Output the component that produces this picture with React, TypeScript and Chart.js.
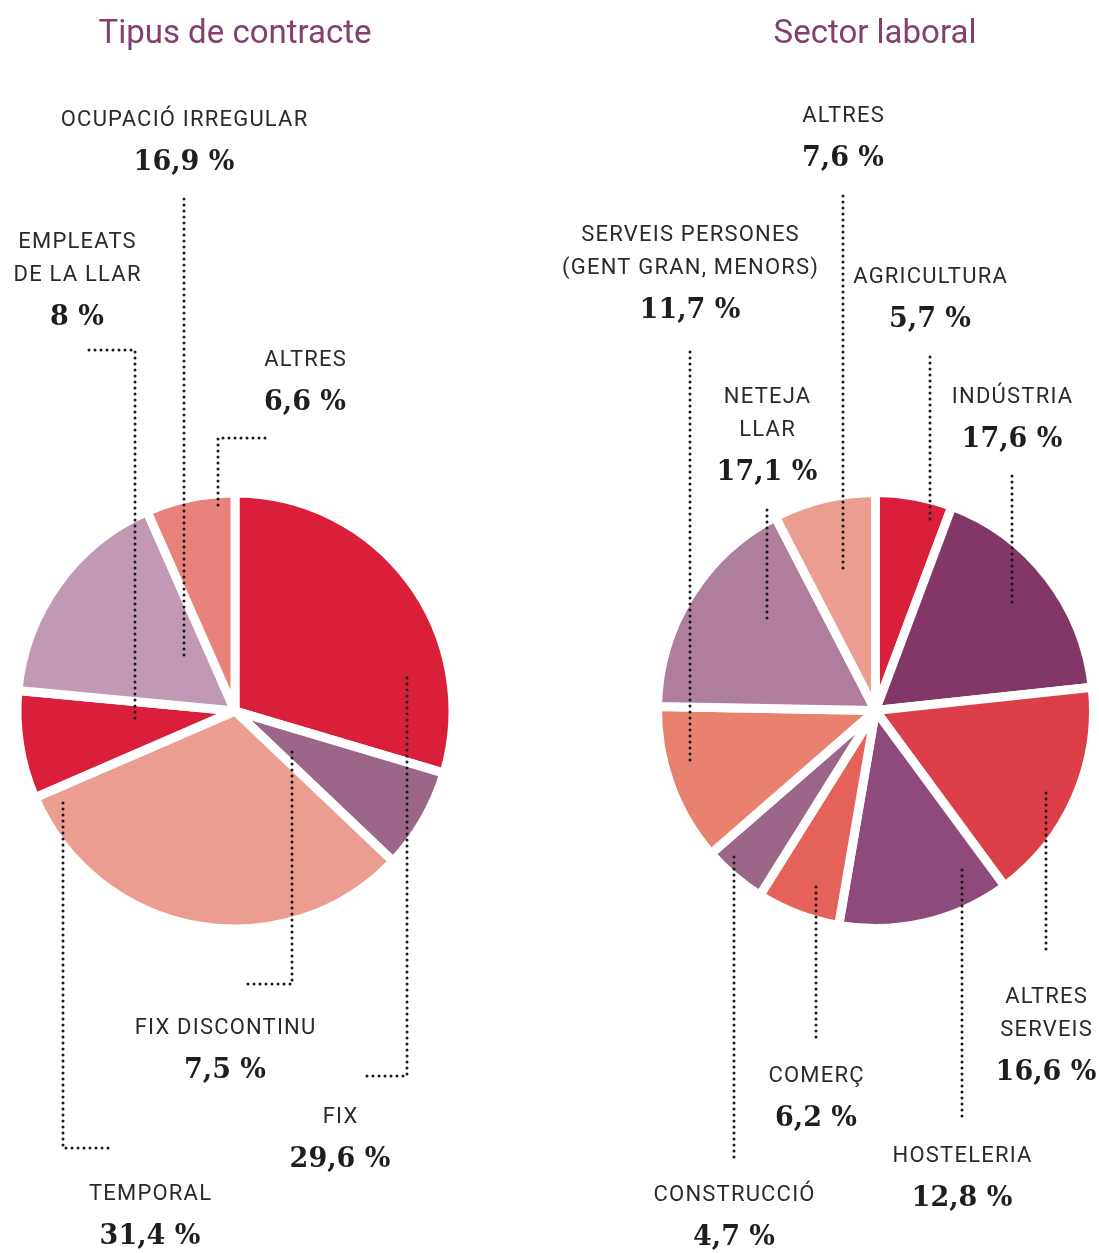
import React, { useEffect, useRef } from "react";
import { Chart, registerables } from "chart.js";

Chart.register(...registerables);

// ---- Data ----
const contractCategories = ["FIX", "FIX DISCONTINU", "TEMPORAL", "EMPLEATS DE LA LLAR", "OCUPACIÓ IRREGULAR", "ALTRES"];
const contractValues = [29.6, 7.5, 31.4, 8, 16.9, 6.6];
const contractColors = ["#DA1F3A", "#9C6688", "#EB9E90", "#DA1F3A", "#C199B4", "#E8827A"];

const sectorCategories = ["AGRICULTURA", "INDÚSTRIA", "ALTRES SERVEIS", "HOSTELERIA", "COMERÇ", "CONSTRUCCIÓ", "SERVEIS PERSONES (GENT GRAN, MENORS)", "NETEJA LLAR", "ALTRES"];
const sectorValues = [5.7, 17.6, 16.6, 12.8, 6.2, 4.7, 11.7, 17.1, 7.6];
const sectorColors = ["#DA1F3A", "#823766", "#DC3F48", "#8D4A7B", "#E5625A", "#9C6688", "#E8826F", "#AE7E9C", "#EB9E90"];

const contractTitle = "Tipus de contracte";
const sectorTitle = "Sector laboral";

// ---- Label layout (annotation placement, not data) ----
type LabelLayout = { index: number; lines: string[]; x: number; y: number; leader: number[][] };

const contractLabels: LabelLayout[] = [
  { index: 4, lines: ["OCUPACIÓ IRREGULAR"], x: 184, y: 118, leader: [[184, 199], [184, 660]] },
  { index: 3, lines: ["EMPLEATS", "DE LA LLAR"], x: 77, y: 240, leader: [[89, 350], [135, 350], [135, 720]] },
  { index: 5, lines: ["ALTRES"], x: 305, y: 358, leader: [[265, 438], [218, 438], [218, 508]] },
  { index: 1, lines: ["FIX DISCONTINU"], x: 225, y: 1026, leader: [[292, 752], [292, 984], [246, 984]] },
  { index: 0, lines: ["FIX"], x: 340, y: 1115, leader: [[407, 678], [407, 1076], [361, 1076]] },
  { index: 2, lines: ["TEMPORAL"], x: 150, y: 1192, leader: [[63, 803], [63, 1148], [110, 1148]] },
];

const sectorLabels: LabelLayout[] = [
  { index: 8, lines: ["ALTRES"], x: 843, y: 114, leader: [[843, 196], [843, 570]] },
  { index: 6, lines: ["SERVEIS PERSONES", "(GENT GRAN, MENORS)"], x: 690, y: 233, leader: [[690, 352], [690, 762]] },
  { index: 0, lines: ["AGRICULTURA"], x: 930, y: 275, leader: [[930, 357], [930, 524]] },
  { index: 7, lines: ["NETEJA", "LLAR"], x: 767, y: 395, leader: [[767, 510], [767, 621]] },
  { index: 1, lines: ["INDÚSTRIA"], x: 1012, y: 395, leader: [[1012, 476], [1012, 606]] },
  { index: 2, lines: ["ALTRES", "SERVEIS"], x: 1046, y: 995, leader: [[1046, 793], [1046, 955]] },
  { index: 3, lines: ["HOSTELERIA"], x: 962, y: 1154, leader: [[962, 870], [962, 1120]] },
  { index: 4, lines: ["COMERÇ"], x: 816, y: 1074, leader: [[816, 887], [816, 1040]] },
  { index: 5, lines: ["CONSTRUCCIÓ"], x: 734, y: 1193, leader: [[734, 857], [734, 1160]] },
];

const W = 1099;
const H = 1253;

function fmt(v: number) {
  return Number.isInteger(v) ? `${v} %` : `${v.toFixed(1).replace(".", ",")} %`;
}

function makePlugin(title: string, titleX: number, values: number[], labels: LabelLayout[]) {
  return {
    id: "labels-" + title,
    afterDraw(chart: any) {
      const ctx = chart.ctx as CanvasRenderingContext2D;
      ctx.save();
      // Title
      ctx.fillStyle = "#843F70";
      ctx.font = "400 33px Roboto";
      ctx.textAlign = "center";
      ctx.textBaseline = "alphabetic";
      (ctx as any).letterSpacing = "0px";
      ctx.fillText(title, titleX, 43);

      // Leaders
      ctx.strokeStyle = "#1a1a1a";
      ctx.lineWidth = 3;
      ctx.lineCap = "round";
      ctx.setLineDash([0, 6]);
      for (const l of labels) {
        ctx.beginPath();
        l.leader.forEach((p, i) => (i === 0 ? ctx.moveTo(p[0], p[1]) : ctx.lineTo(p[0], p[1])));
        ctx.stroke();
      }
      ctx.setLineDash([]);

      // Texts
      for (const l of labels) {
        ctx.fillStyle = "#2a2a2a";
        ctx.font = "400 22px Roboto";
        (ctx as any).letterSpacing = "1.2px";
        l.lines.forEach((line, i) => {
          ctx.fillText(line, l.x + 0.6, l.y + i * 33 + 8);
        });
        const pctY = l.y + (l.lines.length - 1) * 33 + 42;
        ctx.fillStyle = "#1e1e1e";
        ctx.font = "700 27px 'DejaVu Serif'";
        (ctx as any).letterSpacing = "0px";
        ctx.fillText(fmt(values[l.index]), l.x, pctY + 10);
      }
      ctx.restore();
    },
  };
}

function PieCanvas(props: {
  categories: string[];
  values: number[];
  colors: string[];
  padding: { left: number; right: number; top: number; bottom: number };
  plugin: any;
}) {
  const ref = useRef<HTMLCanvasElement | null>(null);
  useEffect(() => {
    if (!ref.current) return;
    const chart = new Chart(ref.current, {
      type: "pie",
      data: {
        labels: props.categories,
        datasets: [
          {
            data: props.values,
            backgroundColor: props.colors,
            borderColor: "#ffffff",
            borderWidth: 9,
            hoverOffset: 0,
          },
        ],
      },
      options: {
        responsive: false,
        animation: false,
        layout: { padding: props.padding },
        plugins: { legend: { display: false }, tooltip: { enabled: false } },
        events: [],
      },
      plugins: [props.plugin],
    });
    return () => chart.destroy();
  }, []);
  return (
    <canvas
      ref={ref}
      width={W}
      height={H}
      style={{ position: "absolute", left: 0, top: 0, width: W, height: H, display: "block" }}
    />
  );
}

export default function App() {
  return (
    <div style={{ position: "absolute", left: 0, top: 0, width: W, height: H, background: "#fff" }}>
      <PieCanvas
        categories={contractCategories}
        values={contractValues}
        colors={contractColors}
        padding={{ left: 12.5, right: W - (235 + 222.5), top: 488.5, bottom: H - (711 + 222.5) }}
        plugin={makePlugin(contractTitle, 235, contractValues, contractLabels)}
      />
      <PieCanvas
        categories={sectorCategories}
        values={sectorValues}
        colors={sectorColors}
        padding={{ left: 875.5 - 222.5, right: W - (875.5 + 222.5), top: 488, bottom: H - (710.5 + 222.5) }}
        plugin={makePlugin(sectorTitle, 875, sectorValues, sectorLabels)}
      />
    </div>
  );
}
